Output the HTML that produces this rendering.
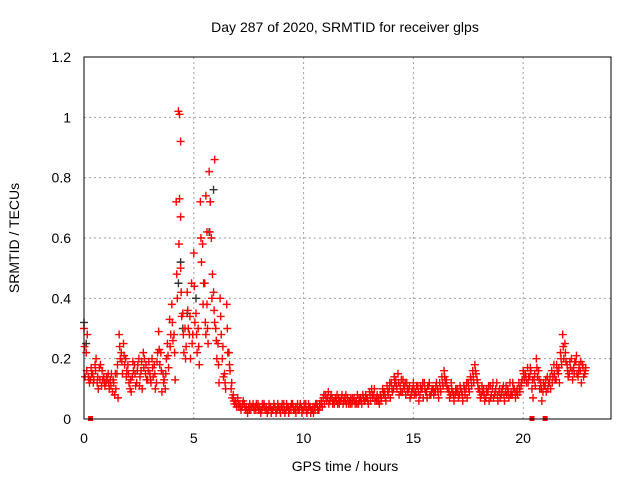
<!DOCTYPE html>
<html><head><meta charset="utf-8"><style>
body{margin:0;background:#fff;}
text{font-family:"Liberation Sans",sans-serif;font-size:14px;fill:#000;}
</style></head><body>
<svg id="chart" width="640" height="480" xmlns="http://www.w3.org/2000/svg">
<text x="345" y="32" text-anchor="middle">Day 287 of 2020, SRMTID for receiver glps</text>
<text transform="translate(19,238) rotate(-90)" text-anchor="middle">SRMTID / TECUs</text>
<text x="345" y="471" text-anchor="middle">GPS time / hours</text>
<g id="grid"></g>
<g id="ticks"></g>
<g id="marks"></g>
<rect x="84" y="57" width="527" height="362" fill="none" stroke="#000" stroke-width="1"/>
</svg>
<script>
const xTicks=[0,5,10,15,20];
const yTicks=[0,0.2,0.4,0.6,0.8,1,1.2];
const yTickLabels=["0","0.2","0.4","0.6","0.8","1","1.2"];
const tStart=0, tStep=0.1;
const redA=[.30,.22,.14,.13,.15,.18,.12,.17,.11,.14,
.12,.15,.13,.09,.08,.15,.28,.22,.25,.20,
.18,.10,.14,.18,.12,.20,.16,.22,.15,.13,
.15,.20,.18,.12,.29,.22,.15,.10,.25,.33,
.38,.28,.72,1.02,.50,.35,.30,.42,.28,.45,
.55,.35,.30,.72,.58,.45,.38,.82,.60,.42,
.30,.25,.40,.20,.15,.38,.22,.10,.08,.06,
.07,.05,.04,.05,.04,.04,.03,.05,.04,.04,
.04,.03,.05,.04,.03,.04,.03,.04,.03,.03,
.04,.05,.03,.04,.04,.05,.03,.04,.03,.04,
.03,.05,.03,.04,.03,.04,.05,.03,.06,.07,
.08,.07,.06,.07,.05,.06,.07,.06,.05,.06,
.07,.06,.05,.07,.06,.05,.07,.08,.06,.07,
.09,.10,.08,.07,.06,.08,.10,.09,.11,.10,
.12,.10,.13,.15,.11,.09,.10,.12,.10,.08,
.12,.09,.11,.08,.10,.12,.09,.11,.08,.10,
.09,.10,.12,.14,.16,.13,.10,.08,.09,.08,
.10,.08,.09,.11,.10,.12,.14,.16,.18,.13,
.10,.08,.10,.07,.09,.11,.10,.08,.12,.09,
.08,.11,.09,.10,.12,.08,.10,.09,.12,.11,
.16,.15,.17,.14,.10,.13,.20,.16,.12,.09,
.11,.14,.12,.16,.18,.13,.15,.22,.28,.25,
.18,.15,.20,.17,.19,.14,.16,.18,.15];
const redB=[.14,.28,.12,.15,.13,.20,.10,.18,.13,.11,
.13,.10,.15,.12,.10,.07,.20,.15,.18,.16,
.12,.09,.16,.11,.18,.14,.10,.20,.13,.19,
.12,.14,.10,.22,.18,.09,.13,.20,.17,.28,
.26,.13,.40,.73,.34,.22,.24,.30,.20,.28,
.32,.22,.18,.52,.45,.28,.25,.72,.48,.32,
.20,.12,.28,.14,.10,.22,.16,.07,.05,.04,
.04,.03,.06,.03,.02,.05,.04,.03,.05,.03,
.02,.04,.03,.02,.04,.03,.05,.02,.04,.02,
.03,.02,.04,.03,.05,.03,.02,.03,.05,.03,
.04,.02,.04,.03,.02,.05,.03,.04,.04,.05,
.06,.05,.08,.06,.07,.05,.06,.08,.07,.05,
.05,.07,.06,.05,.08,.06,.05,.06,.07,.05,
.06,.07,.06,.08,.05,.07,.08,.06,.08,.07,
.09,.12,.10,.08,.13,.11,.08,.09,.07,.10,
.08,.11,.06,.10,.07,.09,.11,.08,.10,.09,
.12,.07,.09,.11,.12,.10,.07,.10,.06,.09,
.07,.10,.06,.08,.07,.09,.11,.12,.15,.10,
.07,.09,.06,.09,.06,.08,.07,.10,.06,.07,
.10,.06,.08,.07,.09,.10,.07,.08,.09,.13,
.13,.12,.14,.16,.07,.11,.14,.10,.06,.11,
.09,.12,.10,.14,.13,.16,.12,.18,.20,.19,
.14,.17,.13,.19,.15,.18,.12,.14,.17];
const redC=[.24,.16,.13,.17,.12,.16,.14,.13,.16,.12,
.14,.12,.11,.13,.15,.18,.24,.19,.21,.14,
.15,.13,.19,.15,.16,.11,.19,.17,.18,.16,
.13,.17,.15,.19,.23,.16,.12,.15,.21,.24,
.32,.22,.48,.58,.42,.28,.20,.36,.34,.25,
.44,.28,.24,.60,.38,.32,.30,.62,.40,.36,
.26,.18,.34,.24,.12,.30,.18,.12,.06,.05,
.05,.04,.05,.04,.03,.03,.04,.04,.03,.05,
.03,.05,.04,.03,.05,.02,.04,.03,.05,.04,
.05,.03,.05,.02,.03,.04,.04,.05,.04,.02,
.05,.03,.05,.02,.04,.03,.04,.05,.05,.08,
.07,.09,.07,.05,.06,.08,.05,.07,.06,.08,
.06,.05,.07,.06,.05,.07,.06,.07,.08,.06,
.08,.08,.10,.06,.07,.06,.09,.07,.09,.12,
.10,.14,.11,.12,.09,.13,.12,.10,.11,.09,
.10,.08,.09,.11,.12,.10,.07,.12,.09,.08,
.11,.09,.10,.12,.14,.11,.09,.12,.08,.10,
.09,.11,.08,.10,.12,.10,.13,.14,.16,.12,
.09,.11,.08,.10,.11,.07,.12,.09,.08,.10,
.09,.08,.11,.09,.08,.12,.09,.10,.10,.12,
.15,.14,.12,.17,.13,.15,.17,.13,.10,.12,
.13,.10,.14,.12,.15,.18,.17,.20,.24,.22,
.16,.19,.16,.15,.21,.16,.19,.17,.16];
const blackT=[0.0,0.1,4.3,4.4,4.5,5.7,5.9,5.1,4.7];
const blackV=[0.32,0.25,0.45,0.52,0.30,0.62,0.76,0.40,0.35];
const redSpikeT=[4.35,4.4,5.55,5.75,5.95,5.6,4.4];
const redSpikeV=[1.01,0.92,0.74,0.72,0.86,0.62,0.67];
const flagT=[0.3,20.4,21.0];

const X0=84,X1=611,Y0=419,Y1=57,XMAX=24,YMAX=1.2;
function xs(t){return X0+(X1-X0)*t/XMAX;}
function ys(v){return Y0-(Y0-Y1)*v/YMAX;}
const NS="http://www.w3.org/2000/svg";
const grid=document.getElementById('grid'),ticks=document.getElementById('ticks'),marks=document.getElementById('marks');
function mk(tag,attrs,parent){const e=document.createElementNS(NS,tag);for(const k in attrs)e.setAttribute(k,attrs[k]);parent.appendChild(e);return e;}
xTicks.forEach(t=>{
  const x=xs(t);
  if(t>0){const g=mk('line',{x1:x,x2:x,y1:Y1,y2:Y0,stroke:'#a0a0a0','stroke-dasharray':'2,3'},grid);
  
  }
  const lb=mk('text',{x:x,y:443,'text-anchor':'middle'},ticks);lb.textContent=String(t);
  
  
});
yTicks.forEach((v,i)=>{
  const y=ys(v);
  if(v>0&&v<YMAX){const g=mk('line',{x1:X0,x2:X1,y1:y,y2:y,stroke:'#a0a0a0','stroke-dasharray':'2,3'},grid);
  
  }
  const lb=mk('text',{x:71,y:y+5,'text-anchor':'end'},ticks);lb.textContent=yTickLabels[i];
  
  
});
function cross(t,v,color,name){
  const x=xs(t),y=ys(v);
  const p=mk('path',{d:`M${x-4},${y}H${x+4}M${x},${y-4}V${y+4}`,stroke:color,'stroke-width':1.4,fill:'none'},marks);
  
  
}
blackT.forEach((t,i)=>cross(t,blackV[i],'#333','black-point'));
redA.forEach((v,i)=>cross(tStart+i*tStep,v,'#ff0000','red-point'));
redB.forEach((v,i)=>cross(tStart+i*tStep+0.05,v,'#ff0000','red-point'));
redC.forEach((v,i)=>cross(tStart+i*tStep+0.025,v,'#ff0000','red-point'));
redSpikeT.forEach((t,i)=>cross(t,redSpikeV[i],'#ff0000','red-point'));
flagT.forEach(t=>{
  const r=mk('rect',{x:xs(t)-2.5,y:Y0-3,width:5,height:5,fill:'#ff0000'},marks);
  
  
});
</script>
</body></html>
